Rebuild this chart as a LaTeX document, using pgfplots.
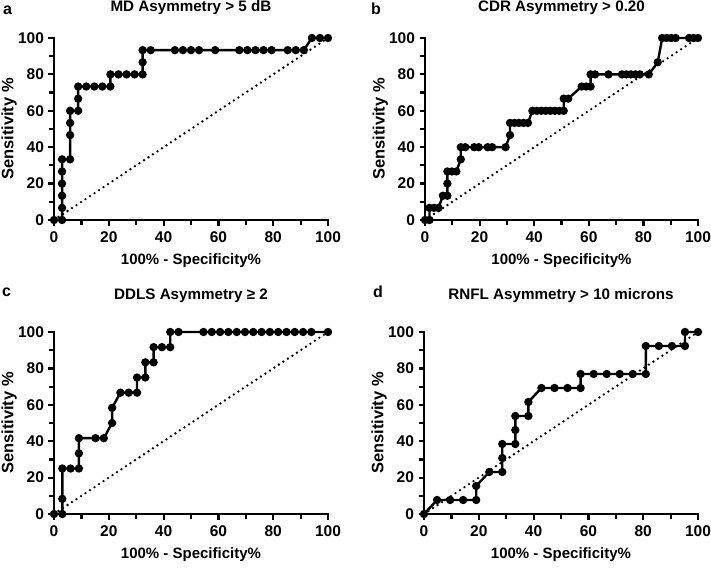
\documentclass[border=0pt]{standalone}
\usepackage{fontspec}
\setmainfont{Liberation Sans}
\usepackage{pgfplots}
\pgfplotsset{compat=1.18}
\pgfplotsset{
 rocax/.style={
  scale only axis, width=274pt, height=182pt,
  xmin=0,xmax=100,ymin=0,ymax=100,
  axis lines=left, axis line style={-, line width=2.4pt, line cap=rect},
  clip=false,
  xtick={0,20,...,100}, ytick={0,20,...,100},
  minor tick num=1,
  tick align=outside, major tick length=5.5pt, minor tick length=5pt,
  every tick/.style={black, line width=2.2pt},
  tick label style={font=\fontsize{15.5}{16}\selectfont\bfseries},
  xticklabel style={yshift=-3pt},
  yticklabel style={xshift=-1pt},
  /pgf/number format/assume math mode=true,
  /pgf/number format/1000 sep={},
  xlabel={100\% - Specificity\%},
  ylabel={Sensitivity \%},
  xlabel style={font=\fontsize{15}{15}\selectfont\bfseries, at={(axis description cs:0.5,-0.247)}, anchor=base},
  ylabel style={font=\fontsize{16.5}{16}\selectfont\bfseries, at={(axis description cs:-0.148,0.5)}, anchor=base},
  title style={font=\fontsize{15.2}{15}\selectfont\bfseries, anchor=base},
 },
 roc/.style={black, line width=2.4pt, mark=*, mark size=2.9pt, mark options={solid}},
 diag/.style={black, line width=2.6pt, line cap=round, dash pattern=on 0pt off 5.4pt},
}
\begin{document}
\begin{tikzpicture}
\path[use as bounding box] (0,0) rectangle (711pt,568pt);
% a
\begin{axis}[rocax, at={(54pt,348pt)}, width=274pt,
  title={MD Asymmetry > 5 dB}, title style={at={(axis description cs:0.5,1.115)}}]
\addplot[diag] coordinates {(0,0) (100,100)};
\addplot[roc] coordinates {(0,0) (2.94,0) (2.94,6.67) (2.94,13.33) (2.94,20) (2.94,26.67) (2.94,33.33) (5.88,33.33) (5.88,46.67) (5.88,53.33) (5.88,60) (8.82,60) (8.82,66.67) (8.82,73.33) (11.76,73.33) (14.71,73.33) (17.65,73.33) (20.59,73.33) (20.59,80) (23.53,80) (26.47,80) (29.41,80) (32.35,80) (32.35,86.67) (32.35,93.33) (35.29,93.33) (44.12,93.33) (47.06,93.33) (50,93.33) (52.94,93.33) (58.82,93.33) (67.65,93.33) (70.59,93.33) (73.53,93.33) (76.47,93.33) (79.41,93.33) (85.29,93.33) (88.24,93.33) (91.18,93.33) (94.12,100) (97.06,100) (100,100)};
\end{axis}
% b
\begin{axis}[rocax, at={(425pt,348pt)}, width=273pt,
  title={CDR Asymmetry > 0.20}, title style={at={(axis description cs:0.5,1.115)}}]
\addplot[diag] coordinates {(0,0) (100,100)};
\addplot[roc] coordinates {(0,0) (1.64,0) (1.64,6.67) (3.28,6.67) (4.92,6.67) (6.56,13.33) (8.20,13.33) (8.20,20) (8.20,26.67) (9.84,26.67) (11.48,26.67) (13.11,33.33) (13.11,40) (14.75,40) (18.03,40) (19.67,40) (22.95,40) (24.59,40) (29.51,40) (31.15,46.67) (31.15,53.33) (32.79,53.33) (34.43,53.33) (36.07,53.33) (37.70,53.33) (39.34,60) (40.98,60) (42.62,60) (44.26,60) (45.90,60) (47.54,60) (49.18,60) (50.82,60) (50.82,66.67) (52.46,66.67) (57.38,73.33) (59.02,73.33) (60.66,73.33) (60.66,80) (62.30,80) (67.21,80) (72.13,80) (73.77,80) (75.41,80) (77.05,80) (78.69,80) (81.97,80) (85.25,86.67) (86.89,100) (88.52,100) (90.16,100) (91.80,100) (96.72,100) (98.36,100) (100,100)};
\end{axis}
% c
\begin{axis}[rocax, at={(54pt,54pt)}, width=274pt,
  title={DDLS Asymmetry ≥ 2}, title style={at={(axis description cs:0.5,1.147)}}]
\addplot[diag] coordinates {(0,0) (100,100)};
\addplot[roc] coordinates {(0,0) (3.03,0) (3.03,8.33) (3.03,25) (6.06,25) (9.09,25) (9.09,33.33) (9.09,41.67) (15.15,41.67) (18.18,41.67) (21.21,50) (21.21,58.33) (24.24,66.67) (27.27,66.67) (30.30,66.67) (30.30,75) (33.33,75) (33.33,83.33) (36.36,83.33) (36.36,91.67) (39.39,91.67) (42.42,91.67) (42.42,100) (45.45,100) (54.55,100) (57.58,100) (60.61,100) (63.64,100) (66.67,100) (69.70,100) (72.73,100) (75.76,100) (78.79,100) (81.82,100) (84.85,100) (87.88,100) (90.91,100) (93.94,100) (100,100)};
\end{axis}
% d
\begin{axis}[rocax, at={(424pt,54pt)}, width=274pt,
  title={RNFL Asymmetry > 10 microns}, title style={at={(axis description cs:0.5,1.147)}}]
\addplot[diag] coordinates {(0,0) (100,100)};
\addplot[roc] coordinates {(0,0) (4.76,7.69) (9.52,7.69) (14.29,7.69) (19.05,7.69) (19.05,15.38) (23.81,23.08) (28.57,23.08) (28.57,30.77) (28.57,38.46) (33.33,38.46) (33.33,46.15) (33.33,53.85) (38.10,53.85) (38.10,61.54) (42.86,69.23) (47.62,69.23) (52.38,69.23) (57.14,69.23) (57.14,76.92) (61.90,76.92) (66.67,76.92) (71.43,76.92) (76.19,76.92) (80.95,76.92) (80.95,92.31) (85.71,92.31) (90.48,92.31) (95.24,92.31) (95.24,100) (100,100)};
\end{axis}
\node[anchor=base west, inner sep=0pt, font=\fontsize{16}{16}\selectfont\bfseries] at (3pt,553pt) {a};
\node[anchor=base west, inner sep=0pt, font=\fontsize{16}{16}\selectfont\bfseries] at (371pt,553pt) {b};
\node[anchor=base west, inner sep=0pt, font=\fontsize{16}{16}\selectfont\bfseries] at (2pt,272pt) {c};
\node[anchor=base west, inner sep=0pt, font=\fontsize{16}{16}\selectfont\bfseries] at (373pt,271pt) {d};
\end{tikzpicture}
\end{document}
